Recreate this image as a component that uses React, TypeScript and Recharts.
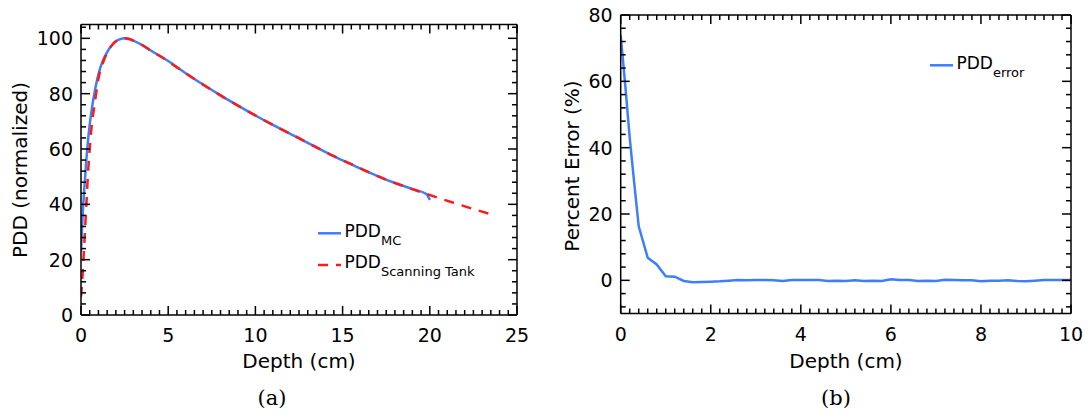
import React from 'react';
import { LineChart, Line, XAxis, YAxis, Legend } from 'recharts';

const FONT = "'DejaVu Sans', sans-serif";
const BLUE = '#3d7eff';
const RED = '#ff1a1a';

// ---- Panel (a): PDD curves ----
const mcDepth = [0, 0.1, 0.2, 0.3, 0.4, 0.5, 0.6, 0.8, 1.0, 1.25, 1.5, 1.75, 2.0, 2.25, 2.5, 2.75, 3, 3.5, 4, 4.5, 5, 6, 7, 8, 9, 10, 11, 12, 13, 14, 15, 16, 17, 18, 19, 19.8, 20];
const mcPdd = [23, 36.5, 46.7, 55.6, 63, 68.8, 73.6, 81.2, 87, 91.9, 95, 97.4, 98.9, 99.7, 100, 99.8, 99.2, 97.6, 95.6, 93.7, 91.8, 87.4, 83.3, 79.4, 75.7, 72.1, 68.7, 65.5, 62.2, 59.0, 55.9, 53.0, 50.2, 47.7, 45.5, 43.7, 41.6];

const tankDepth = [0, 0.1, 0.2, 0.3, 0.4, 0.5, 0.6, 0.8, 1.0, 1.25, 1.5, 1.8, 2.1, 2.5, 3, 3.5, 4, 4.5, 5.5, 6.5, 7.5, 8.5, 9.5, 10.5, 11.5, 12.5, 13.5, 14.5, 15.5, 16.5, 17.5, 18.5, 19.5, 20.5, 21.5, 22.5, 23.5];
const tankPdd = [6.6, 15.5, 27, 39, 51, 60, 67.5, 77, 85.5, 91, 94.8, 97.7, 99.4, 100, 99.2, 97.6, 95.5, 93.7, 89.5, 85.3, 81.3, 77.5, 73.9, 70.4, 67.1, 63.9, 60.6, 57.4, 54.5, 51.6, 48.9, 46.6, 44.4, 42.3, 40.3, 38.3, 36.4];

// ---- Panel (b): percent error ----
const errDepth = [0, 0.05, 0.1, 0.2, 0.3, 0.4, 0.6, 0.8, 1.0, 1.2, 1.4, 1.6, 1.8,
  2.0, 2.2, 2.4, 2.6, 2.8, 3.0, 3.2, 3.4, 3.6, 3.8,
  4.0, 4.2, 4.4, 4.6, 4.8, 5.0, 5.2, 5.4, 5.6, 5.8,
  6.0, 6.2, 6.4, 6.6, 6.8, 7.0, 7.2, 7.4, 7.6, 7.8,
  8.0, 8.2, 8.4, 8.6, 8.8, 9.0, 9.2, 9.4, 9.6, 9.8, 10.0];
const errPct = [73.8, 66.5, 59, 43, 29.4, 16.3, 6.8, 4.8, 1.2, 1.1, -0.2, -0.6, -0.5,
  -0.4, -0.3, -0.1, 0.1, 0.0, 0.1, 0.1, 0.0, -0.2, 0.1,
  0.1, 0.1, 0.1, -0.2, -0.1, -0.2, 0.0, -0.2, -0.1, -0.2,
  0.3, 0.1, 0.1, -0.2, -0.1, -0.2, 0.2, 0.1, 0.0, 0.0,
  -0.3, -0.1, -0.1, 0.0, -0.2, -0.3, -0.1, 0.1, 0.1, 0.1,
  0.1];

// ---- Ticks (major + minor) ----
const aXTicks = Array.from({ length: 51 }, (_, i) => i * 0.5);
const aYTicks = Array.from({ length: 27 }, (_, i) => i * 4);
const bXTicks = Array.from({ length: 51 }, (_, i) => Math.round(i * 2) / 10);
const bYTicks = Array.from({ length: 23 }, (_, i) => -8 + i * 4);

const legendA = [
  { main: 'PDD', sub: 'MC', color: BLUE, dash: undefined as string | undefined },
  { main: 'PDD', sub: 'Scanning Tank', color: RED, dash: '10 8' },
];
const legendB = [{ main: 'PDD', sub: 'error', color: BLUE, dash: undefined as string | undefined }];

const mcData = mcDepth.map((d, i) => ({ d, v: mcPdd[i] }));
const tankData = tankDepth.map((d, i) => ({ d, v: tankPdd[i] }));
const errData = errDepth.map((d, i) => ({ d, v: errPct[i] }));

const isMajor = (v: number, step: number) => Math.abs(v / step - Math.round(v / step)) < 1e-6;
const tl = (m: boolean) => (m ? 9 : 5);
const fmt = (v: number) => String(Math.round(v));
const TS = 19;

const bottomTick = (step: number) => (p: any) => {
  const v = p.payload.value;
  const m = isMajor(v, step);
  const x = Number(p.x), y = Number(p.y);
  return (
    <g>
      <path d={`M${x},${y}V${y - tl(m)}`} stroke="#000" strokeWidth={1.5} fill="none" />
      {m ? (
        <text x={x} y={y + 27} textAnchor="middle" fontSize={TS} fontFamily={FONT} fill="#000">{fmt(v)}</text>
      ) : null}
    </g>
  );
};
const topTick = (step: number) => (p: any) => {
  const m = isMajor(p.payload.value, step);
  const x = Number(p.x), y = Number(p.y);
  return <path d={`M${x},${y}V${y + tl(m)}`} stroke="#000" strokeWidth={1.5} fill="none" />;
};
const leftTick = (step: number) => (p: any) => {
  const v = p.payload.value;
  const m = isMajor(v, step);
  const x = Number(p.x), y = Number(p.y);
  return (
    <g>
      <path d={`M${x},${y}H${x + tl(m)}`} stroke="#000" strokeWidth={1.5} fill="none" />
      {m ? (
        <text x={x - 8} y={y + 7} textAnchor="end" fontSize={TS} fontFamily={FONT} fill="#000">{fmt(v)}</text>
      ) : null}
    </g>
  );
};
const rightTick = (step: number) => (p: any) => {
  const m = isMajor(p.payload.value, step);
  const x = Number(p.x), y = Number(p.y);
  return <path d={`M${x},${y}H${x - tl(m)}`} stroke="#000" strokeWidth={1.5} fill="none" />;
};

const renderLegend = (items: typeof legendA) => (props: any) => {
  const payload = props && props.payload ? props.payload : [];
  return (
    <svg width={240} height={40 + 32 * (items.length - 1)} style={{ display: 'block', overflow: 'visible' }}>
      {items.map((it, i) => {
        const y = 18.3 + i * 31.7;
        const color = payload[i] && payload[i].color ? payload[i].color : it.color;
        return (
          <g key={i}>
            <path d={`M8,${y}H31`} stroke={color} strokeWidth={2.5} strokeDasharray={it.dash} fill="none" />
            <text x={34.5} y={y + 3.4} fontSize={17} fontFamily={FONT} fill="#000">
              {it.main}
              <tspan dy={7.8} fontSize={13}>{it.sub}</tspan>
            </text>
          </g>
        );
      })}
    </svg>
  );
};

const axisStroke = { stroke: '#000', strokeWidth: 1.5 };

export default function App() {
  return (
    <div style={{ position: 'absolute', left: 0, top: 0, width: 1090, height: 418, background: '#fff', overflow: 'hidden' }}>
      <div style={{ position: 'absolute', left: 0, top: 0 }}>
        <LineChart width={545} height={418} margin={{ top: 23.5, right: 27, bottom: 53, left: 21 }}>
          <XAxis
            xAxisId="b" dataKey="d" type="number" domain={[0, 25]} ticks={aXTicks} interval={0}
            allowDataOverflow tickSize={0} tickMargin={0} tickLine={false} axisLine={axisStroke}
            height={50} tick={bottomTick(5)}
            label={() => (
              <text x={299} y={368} textAnchor="middle" fontSize={20} fontFamily={FONT} fill="#000">Depth (cm)</text>
            )}
          />
          <XAxis
            xAxisId="t" orientation="top" dataKey="d" type="number" domain={[0, 25]} ticks={aXTicks} interval={0}
            allowDataOverflow tickSize={0} tickMargin={0} tickLine={false} axisLine={axisStroke}
            height={1} tick={topTick(5)}
          />
          <YAxis
            yAxisId="l" type="number" domain={[0, 105]} ticks={aYTicks} interval={0} allowDataOverflow
            tickSize={0} tickMargin={0} tickLine={false} axisLine={axisStroke} width={60} tick={leftTick(20)}
            label={() => (
              <text x={26.5} y={170} transform="rotate(-90, 26.5, 170)" textAnchor="middle" fontSize={20} fontFamily={FONT} fill="#000">
                PDD (normalized)
              </text>
            )}
          />
          <YAxis
            yAxisId="r" orientation="right" type="number" domain={[0, 105]} ticks={aYTicks} interval={0}
            allowDataOverflow tickSize={0} tickMargin={0} tickLine={false} axisLine={axisStroke} width={1}
            tick={rightTick(20)}
          />
          <Line
            xAxisId="b" yAxisId="l" data={mcData} dataKey="v" name="PDD MC" type="monotone"
            stroke={BLUE} strokeWidth={2.5} dot={false} isAnimationActive={false}
          />
          <Line
            xAxisId="t" yAxisId="r" data={tankData} dataKey="v" name="PDD Scanning Tank" type="monotone"
            stroke={RED} strokeWidth={2.5} strokeDasharray="10 8" dot={false} isAnimationActive={false}
          />
          <Legend
            layout="vertical" align="center" verticalAlign="middle"
            wrapperStyle={{ left: 310, top: 215, width: 240, height: 80 }}
            content={renderLegend(legendA)}
          />
        </LineChart>
      </div>

      <div style={{ position: 'absolute', left: 545, top: 0 }}>
        <LineChart width={545} height={418} margin={{ top: 14, right: 18, bottom: 54.5, left: 15.7 }}>
          <XAxis
            xAxisId="b" dataKey="d" type="number" domain={[0, 10]} ticks={bXTicks} interval={0}
            allowDataOverflow tickSize={0} tickMargin={0} tickLine={false} axisLine={axisStroke}
            height={50} tick={bottomTick(2)}
            label={() => (
              <text x={301} y={368} textAnchor="middle" fontSize={20} fontFamily={FONT} fill="#000">Depth (cm)</text>
            )}
          />
          <XAxis
            xAxisId="t" orientation="top" dataKey="d" type="number" domain={[0, 10]} ticks={bXTicks} interval={0}
            allowDataOverflow tickSize={0} tickMargin={0} tickLine={false} axisLine={axisStroke}
            height={1} tick={topTick(2)}
          />
          <YAxis
            yAxisId="l" type="number" domain={[-10, 80]} ticks={bYTicks} interval={0} allowDataOverflow
            tickSize={0} tickMargin={0} tickLine={false} axisLine={axisStroke} width={60} tick={leftTick(20)}
            label={() => (
              <text x={34} y={166} transform="rotate(-90, 34, 166)" textAnchor="middle" fontSize={20} fontFamily={FONT} fill="#000">
                Percent Error (%)
              </text>
            )}
          />
          <YAxis
            yAxisId="r" orientation="right" type="number" domain={[-10, 80]} ticks={bYTicks} interval={0}
            allowDataOverflow tickSize={0} tickMargin={0} tickLine={false} axisLine={axisStroke} width={1}
            tick={rightTick(20)}
          />
          <Line
            xAxisId="b" yAxisId="l" data={errData} dataKey="v" name="PDD error" type="linear"
            stroke={BLUE} strokeWidth={2.5} dot={false} isAnimationActive={false}
          />
          <Legend
            layout="vertical" align="center" verticalAlign="middle"
            wrapperStyle={{ left: 377, top: 47, width: 160, height: 50 }}
            content={renderLegend(legendB)}
          />
        </LineChart>
      </div>

      <svg width={1090} height={418} style={{ position: 'absolute', left: 0, top: 0, pointerEvents: 'none' }}>
        <text x={272} y={405} textAnchor="middle" fontSize={21} fontFamily="'DejaVu Serif', serif" fill="#000">(a)</text>
        <text x={836} y={405} textAnchor="middle" fontSize={21} fontFamily="'DejaVu Serif', serif" fill="#000">(b)</text>
      </svg>
    </div>
  );
}
